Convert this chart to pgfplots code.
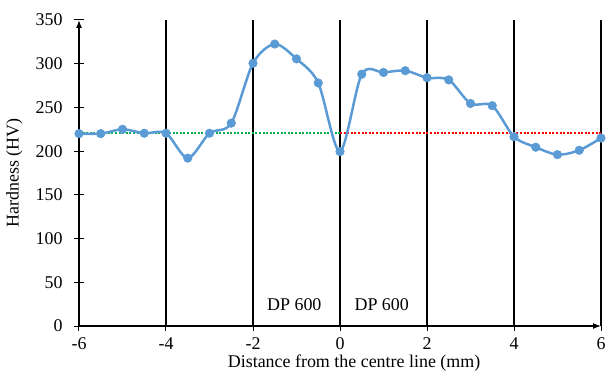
\documentclass[border=0pt]{standalone}
\usepackage{pgfplots}
\pgfplotsset{compat=1.18}
\usetikzlibrary{arrows.meta}
\usepackage{fontspec}
\setmainfont{Liberation Serif}
\definecolor{exblue}{RGB}{91,155,213}
\definecolor{exgreen}{RGB}{0,176,80}
\definecolor{exred}{RGB}{255,0,0}
\newcommand{\ff}{\fontsize{18}{21}\selectfont}
\begin{document}
\begin{tikzpicture}
\begin{axis}[
  name=ax,
  width=522bp, height=306bp, scale only axis,
  xmin=-6, xmax=6, ymin=0, ymax=350,
  axis x line=bottom, axis y line=left,
  axis line style={line width=1.2bp, -{Latex[length=8bp,width=6bp]}},
  xtick={-6,-4,...,6}, ytick={0,50,...,350},
  tick align=center, major tick length=10bp,
  tick style={line width=1bp, black},
  /pgf/number format/assume math mode=true,
  tick label style={font=\ff},
  xticklabel style={yshift=-3bp},
  yticklabel style={xshift=-8bp},
  xlabel={Distance from the centre line (mm)},
  ylabel={Hardness (HV)},
  every axis x label/.style={at={(axis description cs:0.527,-0.121)}, anchor=center, font=\ff},
  every axis y label/.style={at={(axis description cs:-0.124,0.5)}, anchor=center, rotate=90, font=\ff},
  clip=false,
]
\addplot[black, line width=1.3bp] coordinates {(-4,0) (-4,350)};
\addplot[black, line width=1.3bp] coordinates {(-2,0) (-2,350)};
\addplot[black, line width=1.3bp] coordinates {(0,0) (0,350)};
\addplot[black, line width=1.3bp] coordinates {(2,0) (2,350)};
\addplot[black, line width=1.3bp] coordinates {(4,0) (4,350)};
\addplot[black, line width=1.3bp] coordinates {(6,0) (6,350)};
\addplot[exgreen, line width=2bp, dash pattern=on 2bp off 1.6bp] coordinates {(-6,221) (0,221)};
\addplot[exred, line width=2bp, dash pattern=on 2bp off 1.6bp] coordinates {(0,221) (6,221)};
\addplot[exblue, line width=2.5bp, smooth, mark=*, mark size=4.3bp, mark options={fill=exblue, draw=exblue, line width=0.5bp}] coordinates {
(-6,220) (-5.5,220) (-5,225) (-4.5,220.5) (-4,220.5) (-3.5,192) (-3,220.5) (-2.5,232)
(-2,300.5) (-1.5,322.5) (-1,305.5) (-0.5,278) (0,199.5) (0.5,288) (1,290) (1.5,292)
(2,284) (2.5,281.5) (3,254.5) (3.5,252) (4,216.5) (4.5,204.5) (5,196) (5.5,201) (6,215)
};
\node[font=\ff] at (axis cs:-1.05,24) {DP 600};
\node[font=\ff] at (axis cs:0.96,24) {DP 600};
\end{axis}
\pgfresetboundingbox
\path ([shift={(-79bp,-50bp)}]ax.south west) rectangle ([shift={(7bp,20bp)}]ax.north east);
\end{tikzpicture}
\end{document}
